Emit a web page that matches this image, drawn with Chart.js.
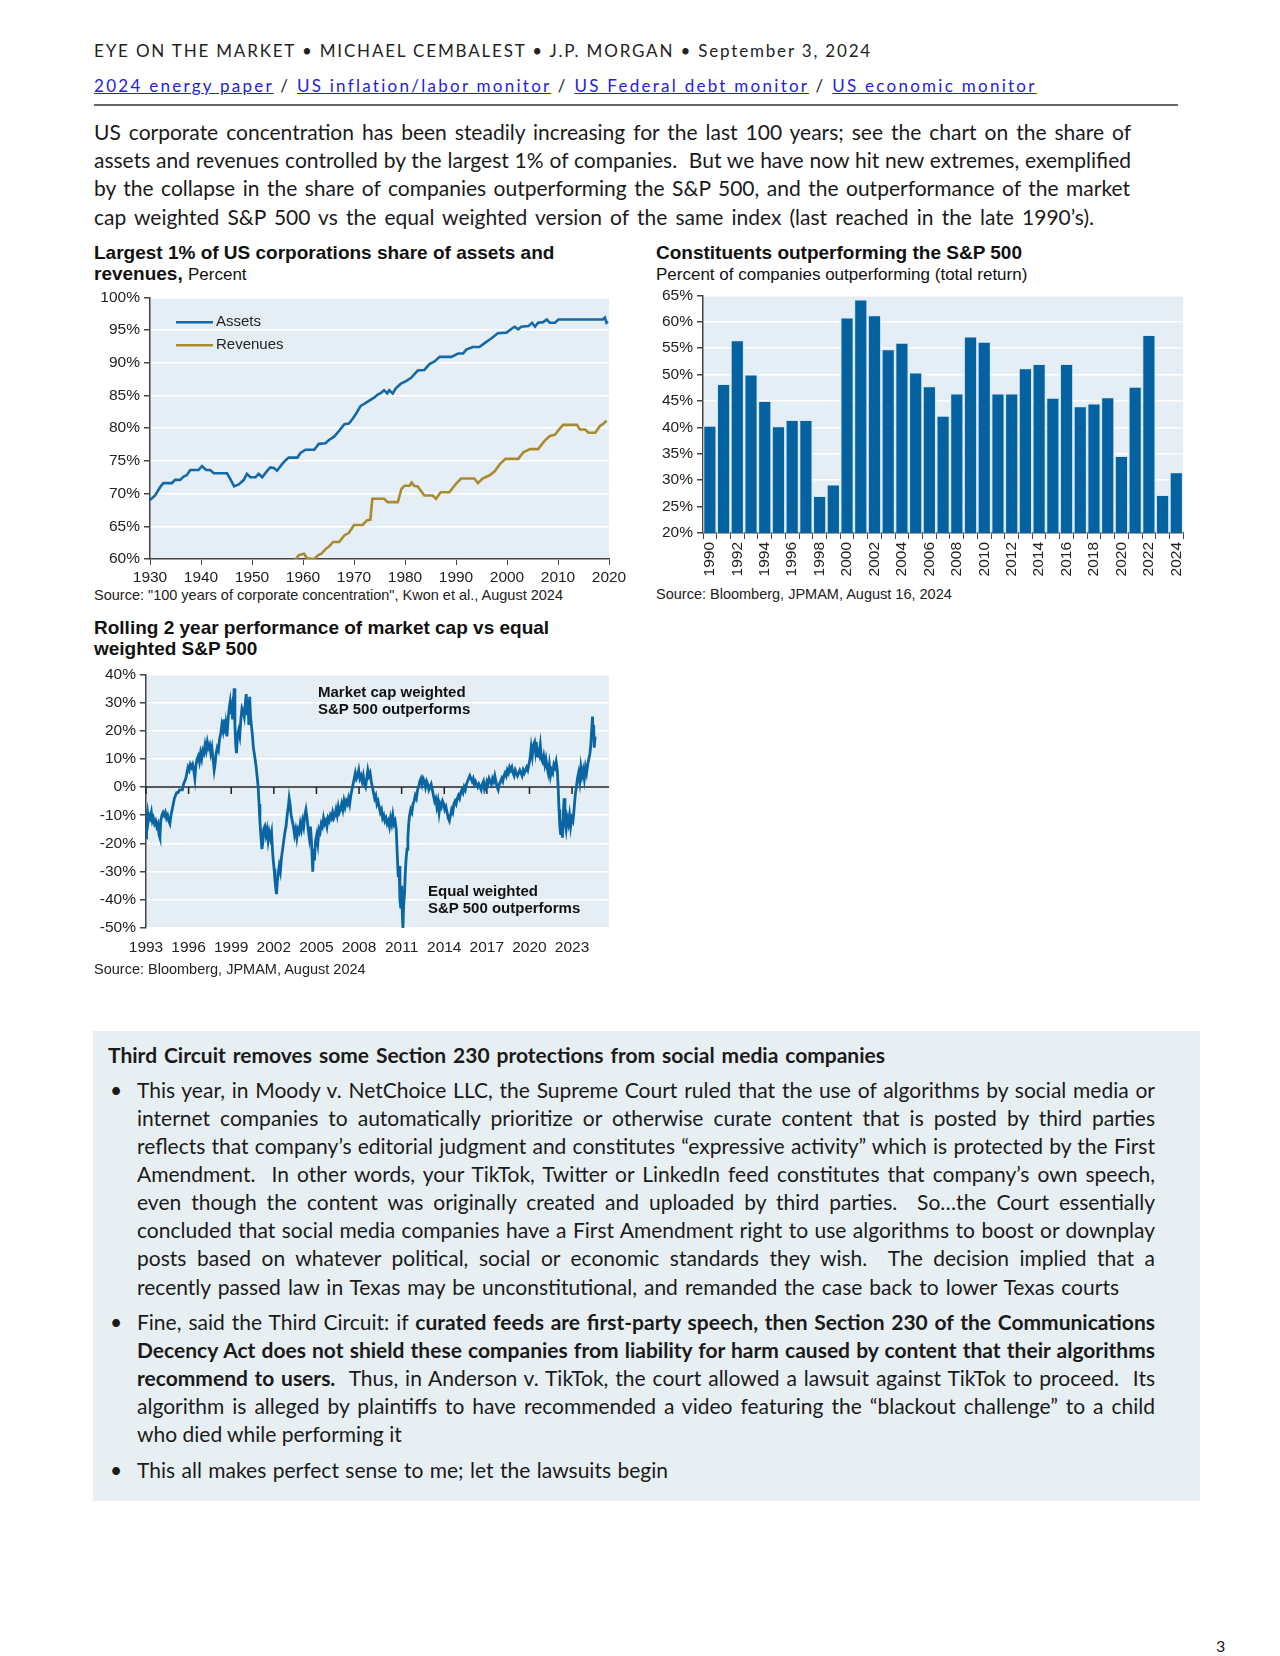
<!DOCTYPE html>
<html lang="en">
<head>
<meta charset="UTF-8">
<title>Eye on the Market</title>
<script src="https://cdn.jsdelivr.net/npm/chart.js"></script>
<style>
  body { margin: 0; background: #fff; }
  .page { position: relative; width: 1280px; height: 1656px; overflow: hidden; font-family: Lato, "Open Sans", sans-serif; color: #1a1a1a; }
  .abs { position: absolute; }
  .hdr { left: 94px; top: 40px; font-size: 17px; line-height: 21px; color: #222; }
  .links { left: 94px; top: 75px; font-size: 17px; line-height: 21px; color: #222; }
  .links a { color: #2323d6; text-decoration: underline; }
  .spread { display: inline-block; white-space: pre; }
  .rule { left: 94px; top: 104px; width: 1084px; height: 2px; background: #666; }
  .para { left: 94px; top: 118px; font-size: 21px; line-height: 28.2px; }
  .ln { white-space: pre; height: 28.09px; }
  .para .ln { height: 28.2px; }
  .fit { display: inline-block; white-space: pre; }
  .ctitle { font-family: "Liberation Sans", Arial, sans-serif; font-weight: bold; font-size: 19px; line-height: 21px; color: #111; white-space: nowrap; }
  .ctitle .sub { font-weight: normal; font-size: 17px; }
  .src { font-family: "Liberation Sans", Arial, sans-serif; font-size: 14.5px; line-height: 19px; color: #222; white-space: nowrap; }
  .note { font-family: "Liberation Sans", Arial, sans-serif; font-weight: bold; font-size: 15px; line-height: 16.5px; color: #111; white-space: nowrap; }
  .box { left: 93px; top: 1031px; width: 1107px; height: 470px; background: #e8eff3; }
  .btitle { left: 108px; top: 1041px; font-size: 21px; line-height: 28px; font-weight: bold; }
  .blk { left: 137px; font-size: 21px; line-height: 28.09px; }
  .dot { left: 110px; font-size: 21px; line-height: 28.09px; }
  .pnum { left: 1216px; top: 1636px; font-size: 16px; }
  canvas { position: absolute; }
</style>
</head>
<body>
<div class="page">

  <div class="abs hdr"><span class="spread" data-w="778">EYE ON THE MARKET • MICHAEL CEMBALEST • J.P. MORGAN • September 3, 2024</span></div>
  <div class="abs links"><span class="spread" data-w="943"><a>2024 energy paper</a> / <a>US inflation/labor monitor</a> / <a>US Federal debt monitor</a> / <a>US economic monitor</a></span></div>
  <div class="abs rule"></div>

  <div class="abs para">
    <div class="ln"><span class="fit" data-w="1037">US corporate concentration has been steadily increasing for the last 100 years; see the chart on the share of</span></div>
    <div class="ln"><span class="fit" data-w="1037">assets and revenues controlled by the largest 1% of companies.  But we have now hit new extremes, exemplified</span></div>
    <div class="ln"><span class="fit" data-w="1036">by the collapse in the share of companies outperforming the S&amp;P 500, and the outperformance of the market</span></div>
    <div class="ln"><span class="fit" data-w="1000">cap weighted S&amp;P 500 vs the equal weighted version of the same index (last reached in the late 1990’s).</span></div>
  </div>

  <!-- Chart 1: largest 1% share -->
  <div class="abs ctitle" style="left:94px; top:242px;">Largest 1% of US corporations share of assets and<br>revenues, <span class="sub">Percent</span></div>
  <canvas id="shareChart" width="541" height="300" style="left:90px; top:284px; width:541px; height:300px;"></canvas>
  <div class="abs src" style="left:94px; top:586px;">Source: "100 years of corporate concentration", Kwon et al., August 2024</div>

  <!-- Chart 2: constituents outperforming -->
  <div class="abs ctitle" style="left:656px; top:242px;">Constituents outperforming the S&amp;P 500<br><span class="sub">Percent of companies outperforming (total return)</span></div>
  <canvas id="outperfChart" width="555" height="299" style="left:643px; top:282px; width:555px; height:299px;"></canvas>
  <div class="abs src" style="left:656px; top:585px;">Source: Bloomberg, JPMAM, August 16, 2024</div>

  <!-- Chart 3: rolling 2 year -->
  <div class="abs ctitle" style="left:94px; top:617px;">Rolling 2 year performance of market cap vs equal<br>weighted S&amp;P 500</div>
  <canvas id="rollingChart" width="543" height="300" style="left:86px; top:661px; width:543px; height:300px;"></canvas>
  <div class="abs note" style="left:318px; top:684px;">Market cap weighted<br>S&amp;P 500 outperforms</div>
  <div class="abs note" style="left:428px; top:883px;">Equal weighted<br>S&amp;P 500 outperforms</div>
  <div class="abs src" style="left:94px; top:960px;">Source: Bloomberg, JPMAM, August 2024</div>

  <!-- Text box -->
  <div class="abs box"></div>
  <div class="abs btitle"><span class="fit" data-w="777">Third Circuit removes some Section 230 protections from social media companies</span></div>

  <div class="abs dot" style="top:1076px;">•</div>
  <div class="abs blk" style="top:1076px;">
    <div class="ln"><span class="fit" data-w="1018">This year, in Moody v. NetChoice LLC, the Supreme Court ruled that the use of algorithms by social media or</span></div>
    <div class="ln"><span class="fit" data-w="1018">internet companies to automatically prioritize or otherwise curate content that is posted by third parties</span></div>
    <div class="ln"><span class="fit" data-w="1018">reflects that company’s editorial judgment and constitutes “expressive activity” which is protected by the First</span></div>
    <div class="ln"><span class="fit" data-w="1018">Amendment.  In other words, your TikTok, Twitter or LinkedIn feed constitutes that company’s own speech,</span></div>
    <div class="ln"><span class="fit" data-w="1018">even though the content was originally created and uploaded by third parties.  So…the Court essentially</span></div>
    <div class="ln"><span class="fit" data-w="1018">concluded that social media companies have a First Amendment right to use algorithms to boost or downplay</span></div>
    <div class="ln"><span class="fit" data-w="1018">posts based on whatever political, social or economic standards they wish.  The decision implied that a</span></div>
    <div class="ln"><span class="fit" data-w="982">recently passed law in Texas may be unconstitutional, and remanded the case back to lower Texas courts</span></div>
  </div>

  <div class="abs dot" style="top:1308px;">•</div>
  <div class="abs blk" style="top:1308px;">
    <div class="ln"><span class="fit" data-w="1018">Fine, said the Third Circuit: if <b>curated feeds are first-party speech, then Section 230 of the Communications</b></span></div>
    <div class="ln"><span class="fit" data-w="1018"><b>Decency Act does not shield these companies from liability for harm caused by content that their algorithms</b></span></div>
    <div class="ln"><span class="fit" data-w="1018"><b>recommend to users.</b>  Thus, in Anderson v. TikTok, the court allowed a lawsuit against TikTok to proceed.  Its</span></div>
    <div class="ln"><span class="fit" data-w="1018">algorithm is alleged by plaintiffs to have recommended a video featuring the “blackout challenge” to a child</span></div>
    <div class="ln">who died while performing it</div>
  </div>

  <div class="abs dot" style="top:1456px;">•</div>
  <div class="abs blk" style="top:1456px;">
    <div class="ln"><span class="fit" data-w="531">This all makes perfect sense to me; let the lawsuits begin</span></div>
  </div>

  <div class="abs pnum">3</div>
</div>

<script>
  // Largest 1% of US corporations, share of assets / revenues (%)
  const assetYears = [1930.0, 1931.0, 1932.0, 1932.6, 1934.3, 1934.9, 1935.9, 1936.6, 1937.2, 1937.9, 1939.5, 1940.2, 1941.0, 1941.8, 1942.5, 1945.1, 1945.7, 1946.5, 1947.4, 1948.4, 1949.0, 1949.7, 1950.7, 1951.3, 1952.0, 1953.0, 1953.6, 1954.3, 1954.9, 1955.9, 1956.6, 1957.2, 1958.9, 1959.5, 1960.5, 1962.2, 1963.1, 1964.4, 1965.1, 1966.1, 1967.1, 1968.1, 1969.0, 1969.7, 1970.4, 1971.3, 1972.0, 1973.0, 1974.0, 1974.6, 1975.3, 1975.9, 1976.5, 1976.9, 1977.6, 1978.2, 1979.2, 1980.2, 1981.2, 1982.5, 1983.8, 1984.8, 1985.8, 1986.8, 1989.1, 1990.4, 1991.4, 1992.0, 1993.3, 1994.6, 1995.6, 1996.9, 1998.2, 1999.9, 2000.9, 2001.5, 2002.2, 2002.8, 2004.2, 2004.9, 2005.5, 2006.1, 2007.1, 2007.8, 2008.4, 2009.4, 2010.1, 2018.8, 2019.2, 2019.5, 2019.8];
  const assetShare = [69.0, 69.7, 71.0, 71.6, 71.6, 72.1, 72.1, 72.6, 72.8, 73.6, 73.6, 74.2, 73.6, 73.6, 73.1, 73.1, 72.3, 71.1, 71.4, 72.1, 73.0, 72.5, 72.5, 73.0, 72.5, 73.5, 74.0, 73.9, 73.5, 74.5, 75.1, 75.5, 75.5, 76.2, 76.7, 76.7, 77.6, 77.7, 78.2, 78.7, 79.6, 80.6, 80.7, 81.4, 82.2, 83.4, 83.7, 84.2, 84.7, 85.1, 85.4, 85.8, 85.3, 85.8, 85.3, 86.1, 86.8, 87.2, 87.7, 88.8, 88.9, 89.8, 90.2, 90.9, 90.9, 91.4, 91.4, 92.0, 92.4, 92.4, 93.0, 93.7, 94.5, 94.6, 95.2, 95.5, 95.1, 95.5, 95.6, 96.1, 95.5, 96.1, 96.2, 96.6, 96.1, 96.1, 96.6, 96.6, 96.9, 96.1, 96.3];
  const revenueYears = [1958.5, 1959.2, 1960.2, 1960.8, 1962.2, 1963.0, 1963.6, 1964.4, 1965.1, 1965.9, 1967.1, 1968.1, 1969.0, 1970.0, 1971.7, 1972.5, 1973.2, 1973.6, 1975.9, 1976.6, 1978.6, 1979.3, 1979.9, 1980.9, 1981.3, 1981.8, 1982.5, 1983.8, 1985.4, 1986.1, 1987.0, 1988.7, 1990.0, 1991.0, 1993.6, 1994.3, 1995.2, 1996.6, 1997.6, 1998.6, 1999.7, 2002.2, 2003.2, 2004.5, 2006.1, 2007.4, 2008.4, 2009.4, 2010.1, 2011.0, 2013.7, 2014.3, 2015.3, 2016.0, 2017.3, 2018.3, 2018.8, 2019.3, 2019.6];
  const revenueShare = [59.9, 60.6, 60.8, 60.1, 60.0, 60.6, 60.8, 61.5, 61.9, 62.6, 62.6, 63.6, 64.0, 65.2, 65.2, 65.9, 66.0, 69.2, 69.2, 68.7, 68.7, 70.7, 71.2, 71.2, 71.7, 71.2, 71.1, 69.7, 69.7, 69.2, 70.2, 70.2, 71.5, 72.3, 72.3, 71.6, 72.3, 72.8, 73.4, 74.5, 75.3, 75.3, 76.3, 76.8, 76.8, 78.1, 78.8, 79.0, 79.7, 80.5, 80.5, 79.8, 79.8, 79.3, 79.3, 80.4, 80.6, 81.0, 81.0];
  const decadeTicks = [1930, 1940, 1950, 1960, 1970, 1980, 1990, 2000, 2010, 2020];

  // Constituents outperforming the S&P 500 (%)
  const barYears = [1990, 1991, 1992, 1993, 1994, 1995, 1996, 1997, 1998, 1999, 2000, 2001, 2002, 2003, 2004, 2005, 2006, 2007, 2008, 2009, 2010, 2011, 2012, 2013, 2014, 2015, 2016, 2017, 2018, 2019, 2020, 2021, 2022, 2023, 2024];
  const outperformPct = [40.3, 48.2, 56.5, 50.0, 45.0, 40.2, 41.4, 41.4, 27.0, 29.2, 60.8, 64.2, 61.2, 54.8, 56.0, 50.4, 47.8, 42.2, 46.4, 57.2, 56.2, 46.4, 46.4, 51.2, 52.0, 45.6, 52.0, 44.0, 44.5, 45.7, 34.6, 47.7, 57.5, 27.2, 31.5];

  // Rolling 2 year performance, market cap vs equal weighted S&P 500 (%)
  const perfDates = [
    1993.00, 1993.04, 1993.10, 1993.16, 1993.22, 1993.30, 1993.38, 1993.45, 1993.52, 1993.60, 1993.68, 1993.76, 1993.84, 1993.92, 1993.98,
    1994.04, 1994.12, 1994.20, 1994.28, 1994.36, 1994.44, 1994.52, 1994.60, 1994.68, 1994.76, 1994.84, 1994.92,
    1995.00, 1995.08, 1995.16, 1995.26, 1995.36, 1995.46, 1995.56, 1995.64, 1995.72, 1995.80, 1995.88, 1995.96,
    1996.04, 1996.12, 1996.20, 1996.28, 1996.36, 1996.44, 1996.52, 1996.60, 1996.68, 1996.76, 1996.84, 1996.92,
    1997.00, 1997.08, 1997.16, 1997.24, 1997.32, 1997.40, 1997.48, 1997.56, 1997.64, 1997.72, 1997.80, 1997.86, 1997.94,
    1998.02, 1998.10, 1998.18, 1998.26, 1998.34, 1998.42, 1998.50, 1998.56, 1998.62, 1998.70, 1998.78, 1998.86, 1998.92, 1998.98,
    1999.04, 1999.10, 1999.16, 1999.21, 1999.26, 1999.32, 1999.37, 1999.44, 1999.52, 1999.60, 1999.68, 1999.76, 1999.84, 1999.92,
    2000.00, 2000.06, 2000.12, 2000.18, 2000.24, 2000.30, 2000.36, 2000.44, 2000.50, 2000.56, 2000.62, 2000.68, 2000.76, 2000.84, 2000.90, 2000.96,
    2001.02, 2001.10, 2001.16, 2001.22, 2001.28, 2001.36, 2001.44, 2001.52, 2001.60, 2001.68, 2001.76, 2001.84, 2001.90, 2001.96,
    2002.02, 2002.08, 2002.14, 2002.19, 2002.24, 2002.30, 2002.38, 2002.46, 2002.54, 2002.62, 2002.70, 2002.78, 2002.86, 2002.94,
    2003.02, 2003.08, 2003.14, 2003.22, 2003.30, 2003.38, 2003.46, 2003.54, 2003.62, 2003.70, 2003.78, 2003.86, 2003.94,
    2004.02, 2004.10, 2004.18, 2004.26, 2004.34, 2004.42, 2004.50, 2004.58, 2004.66, 2004.74, 2004.80, 2004.86, 2004.94,
    2005.02, 2005.10, 2005.18, 2005.26, 2005.34, 2005.42, 2005.50, 2005.58, 2005.66, 2005.74, 2005.82, 2005.90, 2005.98,
    2006.06, 2006.14, 2006.22, 2006.30, 2006.38, 2006.46, 2006.54, 2006.62, 2006.70, 2006.78, 2006.86, 2006.94,
    2007.02, 2007.10, 2007.18, 2007.26, 2007.34, 2007.42, 2007.50, 2007.58, 2007.66, 2007.74, 2007.82, 2007.90, 2007.98,
    2008.06, 2008.14, 2008.22, 2008.30, 2008.38, 2008.46, 2008.54, 2008.62, 2008.70, 2008.78, 2008.86, 2008.94,
    2009.02, 2009.10, 2009.18, 2009.26, 2009.34, 2009.42, 2009.50, 2009.58, 2009.66, 2009.74, 2009.82, 2009.90, 2009.98,
    2010.06, 2010.14, 2010.22, 2010.30, 2010.38, 2010.46, 2010.54, 2010.62, 2010.70, 2010.76, 2010.82, 2010.88, 2010.94,
    2011.00, 2011.05, 2011.09, 2011.14, 2011.20, 2011.26, 2011.32, 2011.38, 2011.44, 2011.50, 2011.56, 2011.64, 2011.72, 2011.80, 2011.88, 2011.96,
    2012.04, 2012.12, 2012.20, 2012.28, 2012.36, 2012.44, 2012.52, 2012.60, 2012.68, 2012.76, 2012.84, 2012.92,
    2013.00, 2013.08, 2013.16, 2013.24, 2013.32, 2013.40, 2013.48, 2013.56, 2013.64, 2013.72, 2013.80, 2013.88, 2013.96,
    2014.04, 2014.12, 2014.20, 2014.28, 2014.36, 2014.44, 2014.52, 2014.60, 2014.68, 2014.76, 2014.84, 2014.92,
    2015.00, 2015.08, 2015.16, 2015.24, 2015.32, 2015.40, 2015.48, 2015.56, 2015.64, 2015.72, 2015.80, 2015.88, 2015.96,
    2016.04, 2016.12, 2016.20, 2016.28, 2016.36, 2016.44, 2016.52, 2016.60, 2016.68, 2016.76, 2016.84, 2016.92,
    2017.00, 2017.08, 2017.16, 2017.24, 2017.32, 2017.40, 2017.48, 2017.56, 2017.64, 2017.72, 2017.80, 2017.88, 2017.96,
    2018.04, 2018.12, 2018.20, 2018.28, 2018.36, 2018.44, 2018.52, 2018.60, 2018.68, 2018.76, 2018.84, 2018.92,
    2019.00, 2019.08, 2019.16, 2019.24, 2019.32, 2019.40, 2019.48, 2019.56, 2019.64, 2019.72, 2019.80, 2019.88, 2019.96,
    2020.04, 2020.12, 2020.20, 2020.28, 2020.36, 2020.42, 2020.48, 2020.54, 2020.60, 2020.68, 2020.76, 2020.84, 2020.92,
    2021.00, 2021.08, 2021.16, 2021.24, 2021.32, 2021.40, 2021.48, 2021.56, 2021.64, 2021.72, 2021.80, 2021.88, 2021.96,
    2022.02, 2022.08, 2022.14, 2022.20, 2022.26, 2022.32, 2022.38, 2022.44, 2022.50, 2022.58, 2022.66, 2022.74, 2022.82, 2022.90, 2022.98,
    2023.06, 2023.14, 2023.22, 2023.30, 2023.38, 2023.46, 2023.54, 2023.62, 2023.70, 2023.78, 2023.86, 2023.94,
    2024.02, 2024.10, 2024.18, 2024.26, 2024.32, 2024.38, 2024.44, 2024.48, 2024.52, 2024.56, 2024.62
  ];
  const perfValues = [
    -18, -11, -9, -12, -10, -11, -9, -12, -11, -13, -12, -14, -13, -17, -18,
    -12, -10, -9, -10, -9, -11, -10, -12, -13, -10, -8, -6,
    -4, -3, -2, -2, -1, -1, -1, 1, 2, 3, 5, 7,
    6, 8, 7, 8, 6, 3, 8, 10, 11, 9, 12, 10,
    13, 12, 15, 13, 16, 14, 15, 12, 14, 10, 6, 8, 12,
    14, 13, 17, 19, 22, 20, 24, 19, 22, 18, 24, 28, 30, 26,
    28, 24, 30, 35, 22, 15, 12, 18, 20, 18, 24, 28, 27, 25,
    30, 33, 26, 31, 22, 32, 25, 21, 18, 14, 12, 10, 7, 3, 0, -6,
    -12, -18, -22, -20, -15, -14, -17, -15, -19, -16, -18, -16, -22, -26,
    -29, -33, -36, -38, -34, -31, -28, -30, -25, -22, -19, -16, -14, -10,
    -7, -4, -6, -10, -12, -14, -17, -15, -18, -15, -16, -13, -15,
    -12, -14, -10, -8, -11, -15, -18, -14, -20, -30, -22, -26, -19,
    -17, -20, -15, -16, -13, -14, -11, -13, -12, -14, -11, -12, -10,
    -11, -9, -11, -10, -8, -10, -7, -9, -8, -6, -8, -5,
    -7, -5, -6, -4, -6, -3, -1, 1, 3, 5, 3, 4, 6,
    3, 4, 2, 4, 1, 0, 3, 6, 4, 5, 2, 0,
    -2, -4, -3, -6, -5, -7, -9, -8, -11, -10, -12, -11, -13,
    -12, -14, -11, -13, -10, -13, -12, -15, -25, -32, -28, -40, -43,
    -35, -45, -50, -42, -38, -30, -25, -22, -18, -13, -10, -8, -9, -6, -5, -3,
    -4, -1, 0, 2, 3, 1, 3, 2, 0, 2, 1, -1,
    0, 1, -1, -3, -5, -4, -7, -5, -9, -6, -7, -5, -6,
    -8, -7, -9, -11, -12, -10, -8, -9, -6, -5, -6, -4,
    -3, -4, -2, -1, -2, 0, -1, 1, 2, 3, 4, 3, 2,
    3, 1, 2, 1, 0, 1, 0, -1, 1, 2, -1, 0,
    2, 1, 3, 2, 1, 3, 2, 4, 2, 0, -1, 1, 2,
    3, 2, 4, 5, 4, 6, 5, 7, 6, 7, 5, 4,
    6, 5, 4, 5, 6, 5, 4, 6, 5, 6, 7, 6, 8,
    10, 14, 11, 15, 16, 13, 16, 11, 14, 12, 15, 10, 9,
    11, 8, 10, 7, 5, 8, 4, 6, 5, 8, 7, 9, 6,
    0, -8, -14, -17, -12, -18, -10, -4, -12, -15, -11, -13, -10, -14, -11,
    -12, -8, -3, 0, 3, 5, 2, 7, 4, 6, 3, 7,
    5, 8, 10, 12, 15, 20, 25, 18, 22, 14, 18
  ];
  const perfTicks = [1993, 1996, 1999, 2002, 2005, 2008, 2011, 2014, 2017, 2020, 2023];

  const axisGrey = "#444";
  const plotFill = "#e6eef5";
  const tickInk = "#222";

  Chart.defaults.font.family = '"Liberation Sans", Arial, sans-serif';
  Chart.defaults.font.size = 15.5;
  Chart.defaults.color = tickInk;
  Chart.defaults.animation = false;

  // light blue plot area behind the data
  const plotBg = {
    id: "plotBg",
    beforeDraw(chart) {
      const { ctx, chartArea: a } = chart;
      ctx.save();
      ctx.fillStyle = plotFill;
      ctx.fillRect(a.left, a.top, a.right - a.left, a.bottom - a.top);
      ctx.restore();
    }
  };

  // legend drawn inside the plot, top left
  const innerLegend = {
    id: "innerLegend",
    afterDatasetsDraw(chart) {
      const { ctx, chartArea: a } = chart;
      ctx.save();
      ctx.font = '15px "Liberation Sans", Arial, sans-serif';
      ctx.textBaseline = "middle";
      ctx.fillStyle = tickInk;
      chart.data.datasets.forEach(function (ds, i) {
        const y = a.top + 25 + i * 23;
        ctx.strokeStyle = ds.borderColor;
        ctx.lineWidth = 2.6;
        ctx.beginPath();
        ctx.moveTo(a.left + 26, y);
        ctx.lineTo(a.left + 63, y);
        ctx.stroke();
        ctx.fillText(ds.label, a.left + 66, y);
      });
      ctx.restore();
    }
  };

  // zero line with the year ticks hanging off it
  const zeroAxis = {
    id: "zeroAxis",
    beforeDatasetsDraw(chart) {
      const { ctx, chartArea: a, scales } = chart;
      const y0 = scales.y.getPixelForValue(0);
      ctx.save();
      ctx.strokeStyle = "#222";
      ctx.lineWidth = 1.5;
      ctx.beginPath();
      ctx.moveTo(a.left, y0);
      ctx.lineTo(a.right, y0);
      scales.x.ticks.forEach(function (t) {
        const px = scales.x.getPixelForValue(t.value);
        ctx.moveTo(px, y0);
        ctx.lineTo(px, y0 + 7);
      });
      ctx.stroke();
      ctx.restore();
    }
  };

  function yAxis(min, max, step) {
    return {
      min: min, max: max,
      ticks: { stepSize: step, padding: 4, color: tickInk, callback: v => v + "%" },
      grid: { color: "#ffffff", lineWidth: 1.5, tickColor: axisGrey, tickLength: 6 },
      border: { color: axisGrey, width: 1.5 },
      afterFit: s => { s.width = 60; }
    };
  }

  new Chart(document.getElementById("shareChart"), {
    type: "line",
    data: {
      datasets: [
        { label: "Assets", data: assetYears.map((x, i) => ({ x: x, y: assetShare[i] })), borderColor: "#136aa6", borderWidth: 2.6, pointRadius: 0 },
        { label: "Revenues", data: revenueYears.map((x, i) => ({ x: x, y: revenueShare[i] })), borderColor: "#a98b2f", borderWidth: 2.6, pointRadius: 0 }
      ]
    },
    options: {
      responsive: false,
      layout: { padding: { top: 10, right: 22 } },
      scales: {
        x: {
          type: "linear", min: 1930, max: 2020,
          afterBuildTicks: s => { s.ticks = decadeTicks.map(v => ({ value: v })); },
          ticks: { padding: 3, color: tickInk, callback: v => String(v) },
          grid: { drawOnChartArea: false, tickColor: axisGrey, tickLength: 6 },
          border: { color: axisGrey, width: 1.5 },
          afterFit: s => { s.height = 25; }
        },
        y: yAxis(60, 100, 5)
      },
      plugins: { legend: { display: false }, tooltip: { enabled: false } }
    },
    plugins: [plotBg, innerLegend]
  });

  new Chart(document.getElementById("outperfChart"), {
    type: "bar",
    data: {
      labels: barYears.map(String),
      datasets: [{
        data: outperformPct,
        backgroundColor: "#03629f",
        borderColor: "#d4e6f3",
        borderWidth: 1,
        barPercentage: 0.96,
        categoryPercentage: 1
      }]
    },
    options: {
      responsive: false,
      layout: { padding: { top: 10, right: 6 } },
      scales: {
        x: {
          ticks: {
            autoSkip: false, maxRotation: 90, minRotation: 90, padding: 3, color: tickInk,
            callback: function (v, i) { return i % 2 === 0 ? this.getLabelForValue(v) : ""; }
          },
          grid: { drawOnChartArea: false, tickColor: axisGrey, tickLength: 6 },
          border: { color: axisGrey, width: 1.5 },
          afterFit: s => { s.height = 48; }
        },
        y: yAxis(20, 65, 5)
      },
      plugins: { legend: { display: false }, tooltip: { enabled: false } }
    },
    plugins: [plotBg]
  });

  new Chart(document.getElementById("rollingChart"), {
    type: "line",
    data: {
      datasets: [{
        data: perfDates.map((x, i) => ({ x: x, y: perfValues[i] })),
        borderColor: "#0a66a2", borderWidth: 2.8, pointRadius: 0
      }]
    },
    options: {
      responsive: false,
      layout: { padding: { top: 10, right: 20 } },
      scales: {
        x: {
          type: "linear", min: 1993, max: 2025.6,
          afterBuildTicks: s => { s.ticks = perfTicks.map(v => ({ value: v })); },
          ticks: { padding: 2, color: tickInk, callback: v => String(v) },
          grid: { display: false },
          border: { display: false },
          afterFit: s => { s.height = 33; }
        },
        y: yAxis(-50, 40, 10)
      },
      plugins: { legend: { display: false }, tooltip: { enabled: false } }
    },
    plugins: [plotBg, zeroAxis]
  });

  // stretch each text line to the width it has in the printed page
  function fitText() {
    document.querySelectorAll(".fit").forEach(function (el) {
      el.style.wordSpacing = "0px";
      const natural = el.getBoundingClientRect().width;
      const gaps = (el.textContent.match(/ /g) || []).length;
      if (gaps) el.style.wordSpacing = ((+el.dataset.w - natural) / gaps) + "px";
    });
    document.querySelectorAll(".spread").forEach(function (el) {
      el.style.letterSpacing = "0px";
      const natural = el.getBoundingClientRect().width;
      el.style.letterSpacing = ((+el.dataset.w - natural) / el.textContent.length) + "px";
    });
  }
  fitText();
  document.fonts.ready.then(fitText);
</script>
</body>
</html>
